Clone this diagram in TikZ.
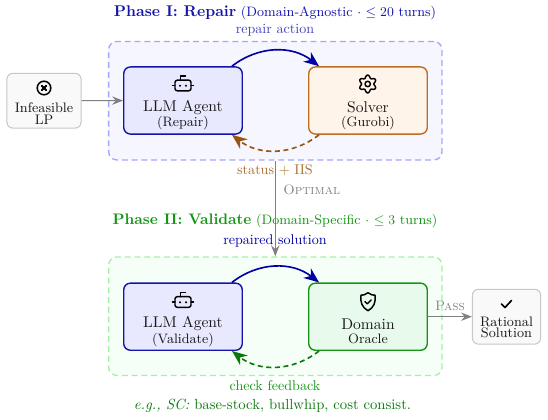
\documentclass[tikz,border=0pt]{standalone}
\usepackage{amsmath,amssymb}
\usepackage{xcolor}
\usetikzlibrary{calc,arrows.meta}
\definecolor{repairBlue}{RGB}{20,20,170}
\definecolor{repairArc}{RGB}{0,0,165}
\definecolor{repairEdge}{RGB}{165,165,255}
\definecolor{repairFill}{RGB}{246,246,255}
\definecolor{agentFill}{RGB}{232,232,255}
\definecolor{solverEdge}{RGB}{190,110,35}
\definecolor{solverFill}{RGB}{255,244,233}
\definecolor{statusBrown}{RGB}{150,85,20}
\definecolor{statusText}{RGB}{170,110,50}
\definecolor{phaseGreen}{RGB}{20,150,20}
\definecolor{checkGreen}{RGB}{10,120,10}
\definecolor{validEdge}{RGB}{165,240,165}
\definecolor{validFill}{RGB}{246,255,247}
\definecolor{oracleFill}{RGB}{232,250,236}
\definecolor{npgray}{RGB}{25,25,25}
\tikzset{
  phasebg/.style={draw, dashed, line width=0.9pt, rounded corners=5.5pt, minimum width=225pt, minimum height=80pt, dash pattern=on 4pt off 2.6pt},
  corebox/.style={draw, line width=0.95pt, rounded corners=4.5pt, minimum width=80pt, minimum height=45.3pt, align=center, text=npgray, font=\fontsize{10.5}{9}\selectfont, inner sep=0pt},
  endbox/.style={draw=black!22, fill=black!2.5, line width=0.7pt, rounded corners=4pt, align=center, text=npgray, font=\fontsize{9.3}{7.8}\selectfont, inner sep=0pt},
  flow/.style={gray, line width=0.7pt, -{Stealth[length=2.6mm,width=2mm,inset=0.9mm]}},
  callarc/.style={line width=1.1pt, -{Stealth[length=3.6mm,width=2.9mm,inset=1.1mm]}},
  backarc/.style={line width=1.1pt, dash pattern=on 3.4pt off 2.4pt, -{Stealth[length=3.6mm,width=2.9mm,inset=1.1mm]}},
  tag/.style={font=\fontsize{9.5}{9}\selectfont, inner sep=0pt},
  icon/.style={line width=1pt, black, line join=round, line cap=round},
  bot/.pic={
    \draw[icon, rounded corners=1.5pt] (-8,-5.3) rectangle (8,5.3);
    \draw[icon] (-2.5,5.3) -- (-2.5,9.5) -- (2.5,9.5);
    \draw[icon] (-10.5,0) -- (-8,0) (8,0) -- (10.5,0);
    \fill (-3,-0.3) circle (1.2) (3,-0.3) circle (1.2);
  },
  gear/.pic={
    \draw[icon] plot[domain=0:360, samples=73, smooth] ({(7.5-1.4*cos(6*\x))*cos(\x)}, {(7.5-1.4*cos(6*\x))*sin(\x)}) -- cycle;
    \draw[icon] (0,0) circle (2.7);
  },
  crossmark/.pic={
    \draw[icon] (0,0) circle (6.8);
    \draw[icon, line width=1.3pt] (-2.2,-2.2) -- (2.2,2.2) (-2.2,2.2) -- (2.2,-2.2);
  },
  shield/.pic={
    \draw[icon] (0,9) .. controls (2.5,6.8) and (5,6.5) .. (7,6.5) .. controls (8,0) and (6,-6) .. (0,-9) .. controls (-6,-6) and (-8,0) .. (-7,6.5) .. controls (-5,6.5) and (-2.5,6.8) .. (0,9) -- cycle;
    \draw[icon] (-3,0) -- (-0.8,-2.2) -- (3.2,1.8);
  },
  tickmark/.pic={
    \draw[icon, line width=1.1pt] (-5,0) -- (-1.5,-3.5) -- (5,3.5);
  }
}
\begin{document}
\begin{tikzpicture}[x=0.675pt, y=0.675pt]
\useasboundingbox (0,0) rectangle (548,419);
\node[phasebg, draw=repairEdge, fill=repairFill] (repairbg) at (275.3,318.3) {};
\node[phasebg, draw=validEdge, fill=validFill] (validbg) at (275.3,102.8) {};
\draw[flow] (repairbg) -- (validbg);

\node[endbox, minimum width=50pt, minimum height=37pt] (lpbox) at (44,318.3) {\rule{0pt}{16pt}\\Infeasible\\LP};
\node[corebox, draw=repairBlue, fill=agentFill] (agentA) at (183,318.5) {\rule{0pt}{18.5pt}\\LLM Agent\\[0.5pt]{\fontsize{9.2}{9}\selectfont (Repair)}};
\node[corebox, draw=solverEdge, fill=solverFill] (solverA) at (368,318.5) {\rule{0pt}{18.5pt}\\Solver\\[0.5pt]{\fontsize{9.2}{9}\selectfont (Gurobi)}};
\node[corebox, draw=repairBlue, fill=agentFill] (agentB) at (183,102.3) {\rule{0pt}{18.5pt}\\LLM Agent\\[0.5pt]{\fontsize{9.2}{9}\selectfont (Validate)}};
\node[corebox, draw=phaseGreen, fill=oracleFill] (oracle) at (368,102.3) {\rule{0pt}{18.5pt}\\Domain\\[0.5pt]{\fontsize{9.2}{9}\selectfont Oracle}};
\node[endbox, minimum width=46pt, minimum height=37pt] (rational) at (506.5,102.3) {\rule{0pt}{13pt}\\Rational\\Solution};

\pic at (44,331) {crossmark};
\pic at (183,333.5) {bot};
\pic at (367.7,335) {gear};
\pic at (183,117) {bot};
\pic at (368,117.3) {shield};
\pic at (506.5,115) {tickmark};

\draw[flow] (lpbox) -- (agentA);
\draw[flow] (oracle) -- (rational);
\draw[callarc, repairArc] (agentA.35) to[bend left=38] (solverA.145);
\draw[backarc, statusBrown] (solverA.215) to[bend left=38] (agentA.325);
\draw[callarc, repairArc] (agentB.35) to[bend left=38] (oracle.145);
\draw[backarc, checkGreen] (oracle.215) to[bend left=38] (agentB.325);

\node[tag, text=repairBlue, font=\fontsize{9.2}{9}\selectfont] (titleA) at (275,406.5) {\textbf{\fontsize{10.5}{9}\selectfont Phase I: Repair} (Domain-Agnostic $\cdot$ $\leq 20$ turns)};
\node[tag, text=repairBlue!80] (callA) at (275,388.5) {repair action};
\node[tag, text=statusText] (statusA) at (275,249) {status + IIS};
\node[tag, text=gray, anchor=west, font=\fontsize{9.2}{9}\selectfont] (optimal) at (283,229) {\textsc{Optimal}};
\node[tag, text=phaseGreen, font=\fontsize{9.2}{9}\selectfont] (titleB) at (275,198.5) {\textbf{\fontsize{10.3}{9}\selectfont Phase II: Validate} (Domain-Specific $\cdot$ $\leq 3$ turns)};
\node[tag, text=repairArc] (callB) at (275,178.5) {repaired solution};
\node[tag, text=gray, font=\fontsize{9.2}{9}\selectfont] (pass) at (450,113) {\textsc{Pass}};
\node[tag, text=phaseGreen] (checkB) at (275,33) {check feedback};
\node[tag, text=checkGreen, font=\fontsize{9.9}{9}\selectfont] (example) at (272.5,13) {\textit{e.g., SC:} base-stock, bullwhip, cost consist.};
\end{tikzpicture}
\end{document}
